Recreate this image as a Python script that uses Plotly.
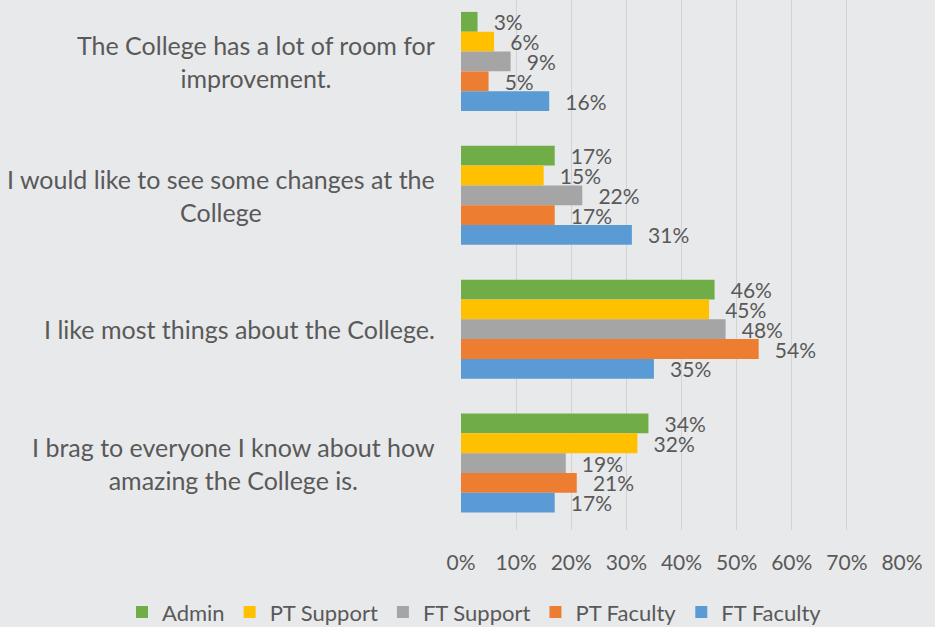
import plotly.graph_objects as go

categories = [
    "The College has a lot of room for\nimprovement.",
    "I would like to see some changes at the\nCollege",
    "I like most things about the College.",
    "I brag to everyone I know about how\namazing the College is.",
]
series_names = ["Admin", "PT Support", "FT Support", "PT Faculty", "FT Faculty"]
admin = [0.03, 0.17, 0.46, 0.34]
pt_support = [0.06, 0.15, 0.45, 0.32]
ft_support = [0.09, 0.22, 0.48, 0.19]
pt_faculty = [0.05, 0.17, 0.54, 0.21]
ft_faculty = [0.16, 0.31, 0.35, 0.17]
x_ticks = [0, 0.1, 0.2, 0.3, 0.4, 0.5, 0.6, 0.7, 0.8]

values = [admin, pt_support, ft_support, pt_faculty, ft_faculty]
colors = ["#70AD47", "#FFC000", "#A5A5A5", "#ED7D31", "#5B9BD5"]
FONT = "Lato"
TXT = "#595959"
BG = "#E8E9EB"

cat_ids = list(range(len(categories)))

fig = go.Figure()
for name, vals, col in zip(series_names, values, colors):
    fig.add_trace(go.Bar(
        name=name, y=cat_ids, x=vals, orientation="h",
        marker=dict(color=col, line=dict(width=0)),
        texttemplate="\u2002\u2009%{x:.0%}", textposition="outside",
        constraintext="none", cliponaxis=False,
        textfont=dict(family=FONT, size=21, color=TXT),
        hoverinfo="skip",
    ))

annotations = []
for i, lab in enumerate(categories):
    annotations.append(dict(x=0, y=i, xref="paper", yref="y", xanchor="right",
                            yanchor="middle", xshift=-24, text=lab.replace("\n", "<br>"),
                            showarrow=False, align="center",
                            font=dict(family=FONT, size=25, color=TXT)))

W, H = 935, 627
L, R, T, B = 461, 33, 0, 97
pw = W - L - R

fig.update_layout(
    width=W, height=H,
    margin=dict(l=L, r=R, t=T, b=B, autoexpand=False),
    paper_bgcolor=BG, plot_bgcolor=BG,
    barmode="group", bargap=0.26, bargroupgap=0,
    font=dict(family=FONT, size=21, color=TXT),
    showlegend=True,
    legend=dict(orientation="h", x=(122 - L) / pw, xanchor="left",
                y=-0.155, yanchor="middle", font=dict(family=FONT, size=22, color=TXT),
                bgcolor="rgba(0,0,0,0)", itemwidth=30, tracegroupgap=0),
    annotations=annotations,
    xaxis=dict(range=[0, 0.8], tickvals=x_ticks, tickformat=".0%",
               showgrid=True, gridcolor="#D2D3D6", gridwidth=1, zeroline=False,
               showline=False, ticks="", ticklabelstandoff=18,
               tickfont=dict(family=FONT, size=21, color=TXT), automargin=False),
    yaxis=dict(range=[3.5, -0.459], showticklabels=False, showgrid=False,
               zeroline=False, showline=False, ticks="", automargin=False),
)

fig.write_html("out.html", config={"displayModeBar": False},
               post_script="document.body.style.margin='0';document.body.style.overflow='hidden';")
